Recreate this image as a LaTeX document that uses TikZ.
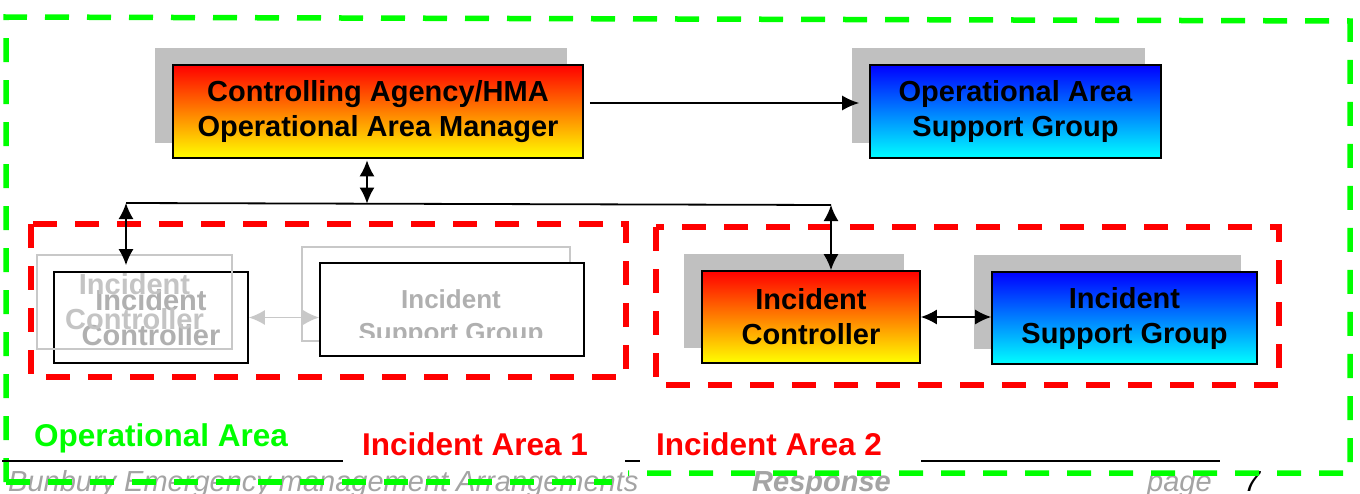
\documentclass[tikz,border=0pt]{standalone}
\usepackage{fontspec}
\setmainfont{Liberation Sans}
\usetikzlibrary{arrows.meta,calc}
\pgfdeclarelayer{bg}
\pgfdeclarelayer{back}
\pgfsetlayers{bg,back,main}
\definecolor{shadowgray}{HTML}{C0C0C0}
\definecolor{fadeline}{HTML}{C8C8C8}
\definecolor{fadetext}{HTML}{B0B0B0}
\definecolor{fadetextlight}{HTML}{C4C4C4}
\definecolor{footgray}{HTML}{A4A4A4}
\definecolor{areagreen}{HTML}{00FF00}
\definecolor{areared}{HTML}{FF0000}
\tikzset{
  card/.style={draw=black, line width=1.6pt, inner sep=0pt, align=center, text=black,
    font=\fontsize{29}{35}\selectfont\bfseries},
  warm/.style={card, top color=red, bottom color=yellow},
  cool/.style={card, top color=blue, bottom color=cyan},
  ghostframe/.style={draw=black, line width=1.6pt, inner sep=0pt, align=center, text=fadetext,
    font=\fontsize{29}{35}\selectfont\bfseries},
  ghostback/.style={draw=fadeline, line width=1.6pt, inner sep=0pt, align=center, text=fadetextlight,
    font=\fontsize{29}{35}\selectfont\bfseries},
  link/.style={line width=1.8pt, draw=black},
  fadelink/.style={line width=1.8pt, draw=fadeline},
  oneway/.style={-{Latex[length=17pt,width=15pt]}},
  twoway/.style={{Latex[length=16pt,width=15pt]}-{Latex[length=16pt,width=15pt]}},
  area/.style={line width=5.5pt, dash pattern=on 24pt off 18pt},
  arealabel/.style={inner sep=0pt, anchor=base west, font=\fontsize{31.5}{36}\selectfont\bfseries},
  foot/.style={inner sep=0pt, anchor=base west, text=footgray, font=\fontsize{29}{35}\selectfont\itshape},
}
\begin{document}
\begin{tikzpicture}[x=1pt,y=-1pt]
\useasboundingbox (0,0) rectangle (1360,493);
\begin{pgfonlayer}{bg}
  \fill[white] (0,0) rectangle (1360,493);
\end{pgfonlayer}

% footer line of the page
\node[foot] (f1) at (8,491) {Bunbury Emergency management Arrangements};
\node[foot, font=\fontsize{29}{35}\selectfont\bfseries\itshape] (f2) at (752,491) {Response};
\node[foot] (f3) at (1147,491) {page};
\node[foot, text=black] (f4) at (1244,491) {7};

% operational area boundary (green)
\draw[area, areagreen] (6,482) -- (6,17) -- (1350,21) -- (1350,473) -- (628,473);
\draw[area, areagreen] (6,482) -- (612,482);

% incident area boundaries (red)
\draw[area, areared] (31,224) rectangle (626,377);
\draw[area, areared] (656,227) rectangle (1279,385);

% header rules and area labels
\draw[line width=2pt] (2,461) -- (343,461);
\draw[line width=2pt] (625,461) -- (640,461);
\draw[line width=2pt] (921,461) -- (1220,461);
\node[arealabel, text=areagreen] (lop) at (34,446) {Operational Area};
\node[arealabel, text=areared] (lia1) at (362,455) {Incident Area 1};
\node[arealabel, text=areared] (lia2) at (656,455) {Incident Area 2};

% main boxes
\node[warm, minimum width=410pt, minimum height=93pt] (ca) at (378,111.5)
  {Controlling Agency/HMA\\Operational Area Manager};
\node[cool, minimum width=291pt, minimum height=93pt] (oasg) at (1015.5,111.5)
  {Operational Area\\Support Group};
\node[warm, minimum width=218pt, minimum height=92pt] (ic) at (811,317)
  {Incident\\Controller};
\node[cool, minimum width=265pt, minimum height=92pt] (isg) at (1124.5,318)
  {Incident\\Support Group};

% drop shadows
\begin{pgfonlayer}{back}
  \foreach \n in {ca,oasg,ic,isg}
    \fill[shadowgray] ($(\n.north west)+(-17,-16)$) rectangle ($(\n.south east)+(-17,-16)$);
\end{pgfonlayer}

% faded incident area 1
\node[ghostframe, minimum width=194pt, minimum height=91pt] (icb) at (151,317.5)
  {Incident\\Controller};
\node[ghostback, minimum width=195pt, minimum height=94pt] (icl) at (134.5,302)
  {Incident\\Controller};
\node[draw=fadeline, line width=1.6pt, minimum width=268pt, minimum height=94pt] (isgl) at (436,294) {};
\node[draw=black, fill=white, line width=1.6pt, minimum width=264pt, minimum height=93pt] (isgb) at (452,309.5) {};
\begin{scope}
  \clip (300,240) rectangle (600,337);
  \node[inner sep=0pt, align=center, text=fadetext, font=\fontsize{26}{33}\selectfont\bfseries] (isgt) at (451,318)
    {Incident\\Support Group};
\end{scope}

% connectors
\coordinate (jl) at (126,203);
\coordinate (jm) at (367,203.6);
\coordinate (jr) at (831,205);
\draw[link] (jl) -- (jr);
\draw[link, oneway] ($(ca.east)+(6,-8.5)$) -- ($(oasg.west)+(-10,-8.5)$);
\draw[link, twoway] ($(ca.south)+(-11,1.5)$) -- (jm);
\draw[link, twoway] (jl) -- ([yshift=6pt]icb.north -| jl);
\draw[link, twoway] (jr) -- (jr |- ic.north);
\draw[link, twoway] (ic.east) -- (ic.east -| isg.west);
\draw[fadelink, twoway] (icb.east) -- (icb.east -| isgb.west);
\end{tikzpicture}
\end{document}
